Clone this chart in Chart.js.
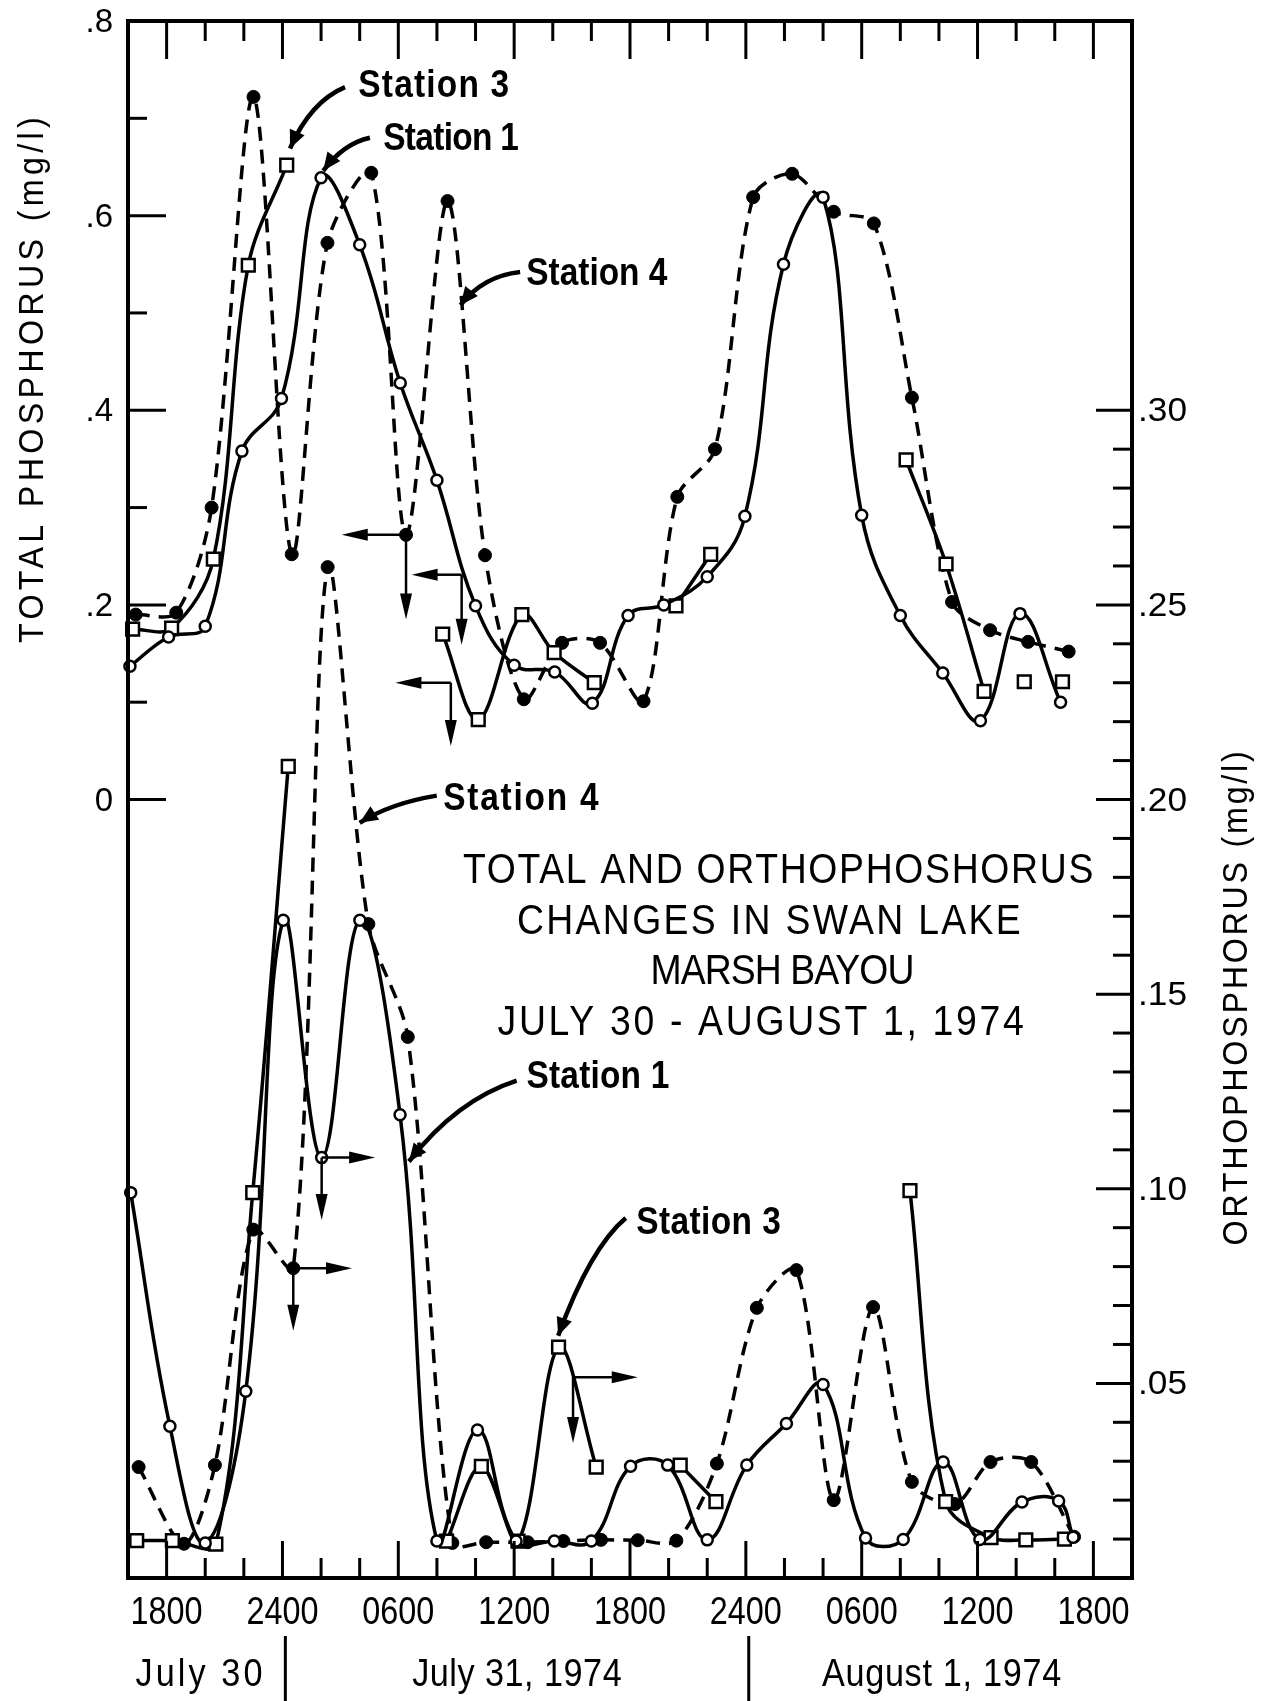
<!DOCTYPE html>
<html>
<head>
<meta charset="utf-8">
<script src="https://cdn.jsdelivr.net/npm/chart.js@4.4.1/dist/chart.umd.min.js"></script>
<style>
  html, body { margin: 0; padding: 0; background: #fff; }
</style>
</head>
<body>
<canvas id="grafico" width="1279" height="1701"></canvas>
<script>
// Horas contadas desde el 30 de julio a las 0000
// Fósforo total (eje izquierdo, mg/l)
const st1TotalHours = [16.1, 18.1, 20.0, 21.9, 23.95, 26.0, 28.0, 30.1, 32.0, 34.0, 36.0, 38.1, 40.05, 41.9, 43.75, 46.0, 47.95, 49.95, 52.0, 54.0, 56.0, 58.2, 60.15, 62.2, 64.3];
const st1TotalValues = [0.137, 0.167, 0.178, 0.358, 0.412, 0.639, 0.570, 0.428, 0.328, 0.199, 0.138, 0.131, 0.099, 0.189, 0.200, 0.229, 0.291, 0.550, 0.619, 0.292, 0.189, 0.130, 0.081, 0.191, 0.100];

const st4TotalHours = [16.4, 18.5, 20.33, 22.5, 24.48, 26.33, 28.6, 30.4, 32.55, 34.49, 36.5, 38.48, 40.45, 42.7, 44.45, 46.4, 48.38, 50.4, 52.55, 54.63, 56.6, 58.68, 60.65, 62.62, 64.72];
const st4TotalValues = [0.190, 0.192, 0.300, 0.722, 0.252, 0.572, 0.644, 0.272, 0.615, 0.251, 0.103, 0.161, 0.161, 0.101, 0.311, 0.360, 0.619, 0.643, 0.604, 0.592, 0.413, 0.203, 0.174, 0.162, 0.152];

const st3TotalHours = [16.24, 18.26, 20.42, 22.23, 24.22, 28.0, 32.3, 34.14, 36.4, 38.07, 40.15, 42.0, 44.38, 46.18, 50.0, 56.3, 58.37, 60.34, 61.4, 62.42, 63.4, 64.4];
const st3TotalValues = [0.175, 0.176, 0.247, 0.549, 0.652, null, 0.170, 0.082, 0.190, 0.151, 0.120, null, 0.199, 0.252, null, 0.349, 0.242, 0.111, null, 0.121, null, 0.121];

// Ortofosfato (eje derecho, mg/l)
const st1OrthoHours = [16.14, 18.17, 20.0, 22.1, 24.04, 26.03, 28.01, 30.09, 32.0, 34.1, 36.1, 38.08, 40.0, 42.03, 43.95, 46.0, 48.05, 50.1, 52.0, 54.2, 56.15, 58.22, 60.12, 62.3, 64.2, 64.95];
const st1OrthoValues = [0.099, 0.039, 0.009, 0.048, 0.169, 0.108, 0.169, 0.119, 0.0095, 0.038, 0.0095, 0.0095, 0.0095, 0.0287, 0.029, 0.0098, 0.029, 0.0397, 0.0497, 0.0103, 0.0099, 0.0298, 0.0099, 0.0195, 0.0198, 0.0105];

const st4OrthoHours = [16.55, 18.9, 20.5, 22.49, 24.56, 26.34, 28.45, 30.49, 32.8, 34.55, 36.7, 38.55, 40.5, 42.4, 44.4, 46.5, 48.57, 50.62, 52.55, 54.59, 56.6, 58.83, 60.67, 62.78, 65.0];
const st4OrthoValues = [0.0285, 0.0088, 0.029, 0.0895, 0.0796, 0.2597, 0.168, 0.139, 0.009, 0.0092, 0.0092, 0.0095, 0.0098, 0.0097, 0.0096, 0.0294, 0.0694, 0.0791, 0.020, 0.0696, 0.0247, 0.019, 0.0298, 0.0298, 0.0106];

const st3OrthoHours = [16.45, 18.3, 20.55, 22.46, 24.3, 28.0, 32.5, 34.3, 36.2, 38.3, 40.25, 42.4, 44.6, 46.45, 51.0, 56.5, 58.35, 60.7, 62.5, 64.5];
const st3OrthoValues = [0.0096, 0.0096, 0.0087, 0.099, 0.2085, null, 0.0095, 0.0287, 0.0095, 0.0593, 0.0285, null, 0.029, 0.0196, null, 0.0995, 0.0196, 0.0104, 0.0098, 0.01];

// Ejes
const xMajorHours = [18, 24, 30, 36, 42, 48, 54, 60, 66];
const xTickLabels = ['1800', '2400', '0600', '1200', '1800', '2400', '0600', '1200', '1800'];
const dateLabels = ['July 30', 'July 31, 1974', 'August 1, 1974'];
const dateCenters = [19.6, 36.0, 58.0];
const dateSeparators = [24.15, 48.15];
const leftTickValues = [0.8, 0.6, 0.4, 0.2, 0];
const leftTickLabels = ['.8', '.6', '.4', '.2', '0'];
const rightTickValues = [0.30, 0.25, 0.20, 0.15, 0.10, 0.05];
const rightTickLabels = ['.30', '.25', '.20', '.15', '.10', '.05'];
const titleLines = ['TOTAL AND ORTHOPHOSHORUS', 'CHANGES IN SWAN LAKE', 'MARSH BAYOU', 'JULY 30 - AUGUST 1, 1974'];

// Rótulos con flecha curva (unidades del eje izquierdo)
const stationNotes = [
  { text: 'Station 3', at: [27.93, 0.733], from: [27.24, 0.732], via: [25.45, 0.717], to: [24.39, 0.669], w: 152 },
  { text: 'Station 1', at: [29.22, 0.678], from: [28.53, 0.680], via: [27.15, 0.674], to: [26.11, 0.646], w: 135 },
  { text: 'Station 4', at: [36.63, 0.539], from: [36.31, 0.542], via: [34.4, 0.538], to: [33.22, 0.508], w: 141 },
  { text: 'Station 4', at: [32.33, 0.0], from: [31.99, 0.004], via: [29.56, -0.004], to: [28.0, -0.024], w: 157 },
  { text: 'Station 1', at: [36.64, -0.286], from: [36.13, -0.289], via: [33.02, -0.309], to: [30.55, -0.372], w: 143 },
  { text: 'Station 3', at: [42.32, -0.436], from: [41.78, -0.430], via: [39.93, -0.461], to: [38.28, -0.551], w: 145 }
];
// Flechas que indican a qué eje se lee cada curva
const totalAxisArrows = [
  { at: [30.4, 0.272], tipX: 27.07, tipY: 0.185 },
  { at: [33.28, 0.231], tipX: 30.69, tipY: 0.159 },
  { at: [32.72, 0.12], tipX: 29.85, tipY: 0.055 }
];
const orthoAxisArrows = [
  { at: [26.03, 0.108], tipX: 28.8, tipY: 0.092 },
  { at: [24.56, 0.0796], tipX: 27.6, tipY: 0.0635 },
  { at: [39.05, 0.0516], tipX: 42.4, tipY: 0.0347 }
];

const toXY = (hours, values) => hours.map((h, i) => ({ x: h, y: values[i] }));

const openCircle = { pointStyle: 'circle', pointRadius: 5.5, pointBackgroundColor: '#fff', pointBorderColor: '#000', pointBorderWidth: 2.5 };
const filledCircle = { pointStyle: 'circle', pointRadius: 6.5, pointBackgroundColor: '#000', pointBorderColor: '#000', pointBorderWidth: 1 };
const square = { pointStyle: 'rect', pointRadius: 9, pointBackgroundColor: '#fff', pointBorderColor: '#000', pointBorderWidth: 2.5 };

function serie(label, hours, values, axis, marker, dashed, tension) {
  return Object.assign({
    label, data: toXY(hours, values), yAxisID: axis,
    borderColor: '#000', borderWidth: 3.5, borderDash: dashed ? [14, 9] : [],
    tension, spanGaps: false, clip: false, fill: false
  }, marker);
}

// Texto ajustado a un ancho: se estrecha con "squeeze" y se reparte el resto como espaciado
function fitText(ctx, text, x, y, font, width, align, squeeze) {
  ctx.font = font;
  ctx.letterSpacing = '0px';
  const s = squeeze || 1;
  let sx = 1;
  if (width) {
    const natural = ctx.measureText(text).width;
    if (squeeze) {
      const ls = (width / s - natural) / text.length;
      ctx.letterSpacing = ls.toFixed(2) + 'px';
      sx = s;
    } else {
      sx = width / natural;
    }
  }
  ctx.save();
  ctx.translate(x, y);
  ctx.scale(sx, 1);
  ctx.textAlign = align || 'left';
  ctx.fillText(text, 0, 0);
  ctx.restore();
  ctx.letterSpacing = '0px';
}

function head(ctx, tx, ty, fx, fy, len, half) {
  const a = Math.atan2(ty - fy, tx - fx);
  const bx = tx - len * Math.cos(a), by = ty - len * Math.sin(a);
  ctx.beginPath();
  ctx.moveTo(tx, ty);
  ctx.lineTo(bx + half * Math.sin(a), by - half * Math.cos(a));
  ctx.lineTo(bx - half * Math.sin(a), by + half * Math.cos(a));
  ctx.closePath();
  ctx.fill();
}

const estiloGrafico = {
  id: 'estiloGrafico',
  afterDatasetsDraw(chart) {
    const ctx = chart.ctx, area = chart.chartArea;
    const sx = chart.scales.x, yl = chart.scales.y, yr = chart.scales.y2;
    const X = h => sx.getPixelForValue(h);
    const YL = v => yl.getPixelForValue(v);
    const YR = v => yr.getPixelForValue(v);
    ctx.save();
    ctx.strokeStyle = '#000';
    ctx.fillStyle = '#000';
    ctx.lineCap = 'butt';

    // marco
    ctx.lineWidth = 4;
    ctx.strokeRect(area.left, area.top, area.right - area.left, area.bottom - area.top);

    // marcas del eje x (arriba y abajo)
    ctx.lineWidth = 3;
    for (let h = 18; h < 68; h += 2) {
      const major = xMajorHours.includes(h);
      const x = X(h);
      ctx.beginPath();
      ctx.moveTo(x, area.top); ctx.lineTo(x, area.top + (major ? 38 : 20));
      ctx.moveTo(x, area.bottom); ctx.lineTo(x, area.bottom - (major ? 37 : 20));
      ctx.stroke();
    }
    // marcas del eje izquierdo
    for (let k = 1; k <= 7; k++) {
      const y = YL(k / 10);
      ctx.beginPath();
      ctx.moveTo(area.left, y); ctx.lineTo(area.left + (k % 2 === 0 ? 38 : 19), y);
      ctx.stroke();
    }
    ctx.beginPath(); ctx.moveTo(area.left, YL(0)); ctx.lineTo(area.left + 38, YL(0)); ctx.stroke();
    // marcas del eje derecho
    for (let k = 1; k <= 30; k++) {
      const y = YR(k / 100);
      ctx.beginPath();
      ctx.moveTo(area.right, y); ctx.lineTo(area.right - (k % 5 === 0 ? 36 : 19), y);
      ctx.stroke();
    }

    // etiquetas
    ctx.textBaseline = 'middle';
    xTickLabels.forEach((t, i) => fitText(ctx, t, X(xMajorHours[i]), 1614, '38px "Liberation Sans"', 72, 'center'));
    dateLabels.forEach((t, i) => fitText(ctx, t, X(dateCenters[i]) + 3, 1676, '38px "Liberation Sans"', [130, 210, 240][i], 'center', 0.9));
    ctx.lineWidth = 3;
    dateSeparators.forEach(h => {
      ctx.beginPath(); ctx.moveTo(X(h), 1636); ctx.lineTo(X(h), 1701); ctx.stroke();
    });
    leftTickLabels.forEach((t, i) => fitText(ctx, t, 113, YL(leftTickValues[i]) + 2, '33px "Liberation Sans"', 0, 'right'));
    rightTickLabels.forEach((t, i) => fitText(ctx, t, 1138, YR(rightTickValues[i]) + 2, '33px "Liberation Sans"', 49, 'left'));

    // títulos de eje
    ctx.save();
    ctx.translate(33, 378); ctx.rotate(-Math.PI / 2);
    fitText(ctx, 'TOTAL PHOSPHORUS (mg/l)', 0, 0, '35px "Liberation Sans"', 530, 'center', 0.92);
    ctx.restore();
    ctx.save();
    ctx.translate(1237, 997); ctx.rotate(-Math.PI / 2);
    fitText(ctx, 'ORTHOPHOSPHORUS (mg/l)', 0, 0, '35px "Liberation Sans"', 497, 'center', 0.92);
    ctx.restore();

    // título central
    ctx.textBaseline = 'alphabetic';
    const tc = [779, 770, 782, 762], tb = [883, 934, 984, 1035], tw = [632, 506, 263, 529];
    titleLines.forEach((t, i) => fitText(ctx, t, tc[i], tb[i], '42px "Liberation Sans"', tw[i], 'center', 0.89));

    // rótulos de estación con flecha curva
    ctx.textBaseline = 'middle';
    stationNotes.forEach(n => {
      fitText(ctx, n.text, X(n.at[0]), YL(n.at[1]), 'bold 38px "Liberation Sans"', n.w, 'left', 0.88);
      const fx = X(n.from[0]), fy = YL(n.from[1]);
      const cx = X(n.via[0]), cy = YL(n.via[1]);
      const tx = X(n.to[0]), ty = YL(n.to[1]);
      ctx.lineWidth = 4.5;
      ctx.beginPath(); ctx.moveTo(fx, fy); ctx.quadraticCurveTo(cx, cy, tx, ty); ctx.stroke();
      head(ctx, tx, ty, cx, cy, 18, 8);
    });

    // flechas de eje
    ctx.lineWidth = 2.5;
    const axisArrow = (ox, oy, hx, vy) => {
      ctx.beginPath(); ctx.moveTo(ox, oy); ctx.lineTo(hx + (hx < ox ? 20 : -20), oy); ctx.stroke();
      head(ctx, hx, oy, ox, oy, 26, 6);
      ctx.beginPath(); ctx.moveTo(ox, oy); ctx.lineTo(ox, vy - 20); ctx.stroke();
      head(ctx, ox, vy, ox, oy, 26, 6);
    };
    totalAxisArrows.forEach(a => axisArrow(X(a.at[0]), YL(a.at[1]), X(a.tipX), YL(a.tipY)));
    orthoAxisArrows.forEach(a => axisArrow(X(a.at[0]), YR(a.at[1]), X(a.tipX), YR(a.tipY)));
    ctx.restore();
  }
};

new Chart(document.getElementById('grafico').getContext('2d'), {
  type: 'line',
  data: {
    datasets: [
      serie('Station 1 total', st1TotalHours, st1TotalValues, 'y', openCircle, false, 0.4),
      serie('Station 3 total', st3TotalHours, st3TotalValues, 'y', square, false, 0.35),
      serie('Station 4 total', st4TotalHours, st4TotalValues, 'y', filledCircle, true, 0.3),
      serie('Station 1 orto', st1OrthoHours, st1OrthoValues, 'y2', openCircle, false, 0.4),
      serie('Station 3 orto', st3OrthoHours, st3OrthoValues, 'y2', square, false, 0.35),
      serie('Station 4 orto', st4OrthoHours, st4OrthoValues, 'y2', filledCircle, true, 0.3)
    ]
  },
  options: {
    responsive: false,
    devicePixelRatio: 1,
    animation: false,
    layout: { padding: { left: 128, right: 147, top: 21, bottom: 123 } },
    plugins: { legend: { display: false }, tooltip: { enabled: false } },
    scales: {
      x: { type: 'linear', min: 16, max: 68, display: false },
      y: { type: 'linear', min: -0.8, max: 0.8, display: false },
      y2: { type: 'linear', position: 'right', min: 0, max: 0.4, display: false }
    }
  },
  plugins: [estiloGrafico]
});
</script>
</body>
</html>
